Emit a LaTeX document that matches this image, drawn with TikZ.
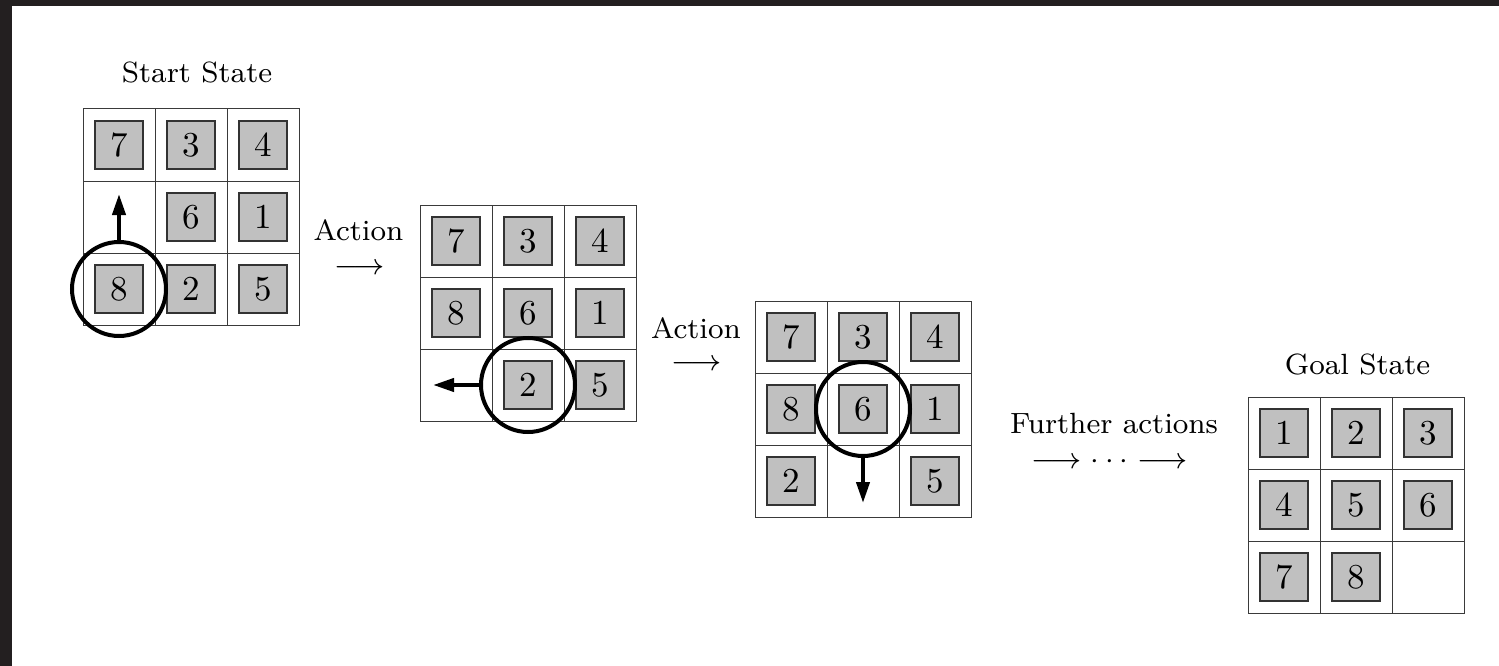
\documentclass[tikz,border=0pt]{standalone}
\usetikzlibrary{arrows.meta}

\definecolor{framedark}{HTML}{231F20}
\definecolor{gridline}{HTML}{3A3A3A}
\definecolor{tileedge}{HTML}{333333}
\definecolor{tilefill}{HTML}{C0C0C0}

% captions: small optical size, enlarged
\newcommand\captext[1]{\scalebox{3.66}{\fontsize{8}{9.6}\selectfont #1}}
% numbers on the tiles
\newcommand\tiletext[1]{\scalebox{3.5}{\fontsize{10}{12}\selectfont #1}}

\tikzset{
  cellbox/.style={draw=gridline, line width=1pt, minimum size=72pt, inner sep=0pt, outer sep=0pt},
  tilebox/.style={draw=tileedge, fill=tilefill, line width=1.3pt, minimum size=48pt, inner sep=0pt},
  mover/.style={circle, draw=black, line width=4pt, minimum size=94pt, inner sep=0pt},
  push/.style={-{Triangle[length=21pt,width=13pt]}, line width=4pt},
  caption/.style={inner sep=0pt, anchor=base},
  flow/.style={inner sep=0pt}
}

% \board{name}{left}{top}{nine entries, 0 = empty}
\newcommand\board[4]{%
  \foreach \v [count=\i] in {#4} {
    \pgfmathtruncatemacro\col{mod(\i-1,3)}
    \pgfmathtruncatemacro\row{(\i-1)/3}
    \pgfmathsetmacro\cx{#2+36+72*\col}
    \pgfmathsetmacro\cy{#3+36+72*\row}
    \node[cellbox] (#1-\i) at (\cx,\cy) {};
    \ifnum\v>0
      \node[tilebox] (#1t-\i) at (#1-\i.center) {\tiletext{\v}};
    \fi
  }%
}

\begin{document}
\begin{tikzpicture}[x=1pt, y=-1pt]
  \useasboundingbox (0,0) rectangle (1499,666);
  \fill[white] (0,0) rectangle (1499,666);
  \fill[framedark] (0,0) rectangle (12,666);
  \fill[framedark] (0,0) rectangle (1499,6);

  % the four boards
  \board{a}{83}{109}{7,3,4,0,6,1,8,2,5}
  \board{b}{420}{205}{7,3,4,8,6,1,0,2,5}
  \board{c}{755}{301}{7,3,4,8,6,1,2,0,5}
  \board{d}{1248}{397}{1,2,3,4,5,6,7,8,0}

  % moved tiles and their directions
  \node[mover] (ma) at (a-7.center) {};
  \coordinate (ta) at (119,194);
  \draw[push] (ma.north) -- (ta);

  \node[mover] (mb) at (b-8.center) {};
  \coordinate (tb) at (433,385);
  \draw[push] (mb.west) -- (tb);

  \node[mover] (mc) at (c-5.center) {};
  \coordinate (tc) at (863,503);
  \draw[push] (mc.south) -- (tc);

  % captions
  \node[caption] (start) at (197,83) {\captext{Start State}};
  \node[caption] (goal) at (1357.5,374) {\captext{Goal State}};

  \node[caption] (act1) at (358.5,240) {\captext{Action}};
  \node[flow] (arr1) at (360,269) {\captext{$\longrightarrow$}};

  \node[caption] (act2) at (696,338) {\captext{Action}};
  \node[flow] (arr2) at (696.5,365) {\captext{$\longrightarrow$}};

  \node[caption] (more) at (1114,433) {\captext{Further actions}};
  \node[flow] (arr3) at (1109.5,462) {\captext{$\longrightarrow$\hspace{2.6pt}$\cdot$\hspace{1.6pt}$\cdot$\hspace{1.6pt}$\cdot$\hspace{2.6pt}$\longrightarrow$}};
\end{tikzpicture}
\end{document}
